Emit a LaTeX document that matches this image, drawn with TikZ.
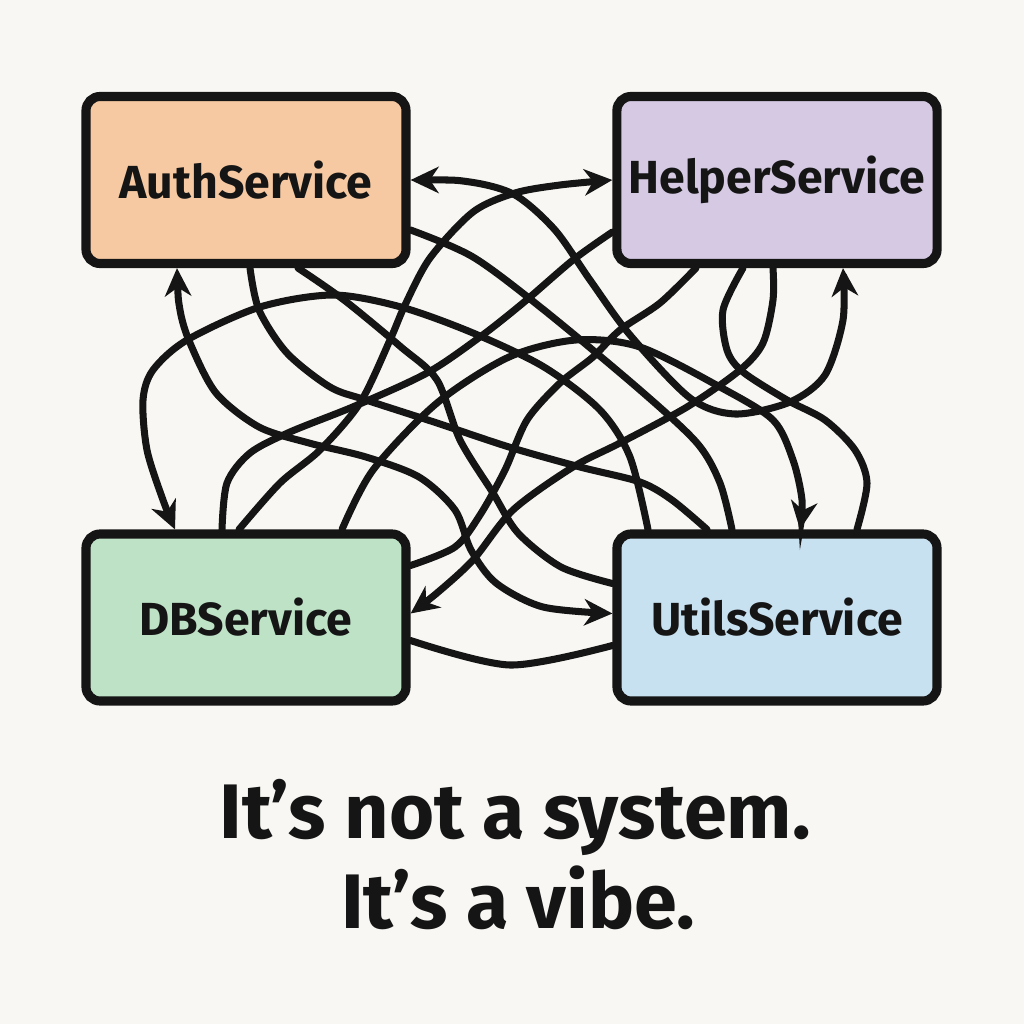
\documentclass[tikz,border=0pt]{standalone}
\usepackage{fontspec}
\setmainfont{Fira Sans}
\usetikzlibrary{arrows.meta}

\definecolor{bgcol}{HTML}{F8F7F3}
\definecolor{authcol}{HTML}{F6C9A2}
\definecolor{helpercol}{HTML}{D5C9E3}
\definecolor{dbcol}{HTML}{BEE2C6}
\definecolor{utilscol}{HTML}{C8E1F1}
\definecolor{inkcol}{HTML}{151515}

\begin{document}
\begin{tikzpicture}[x=0.1mm,y=-0.1mm,node distance=53.1mm,>={Stealth[length=8pt,width=7.5pt,inset=2.5pt]}]
   \tikzstyle{service}=[draw=inkcol,line width=2.6pt,rounded corners=4pt,minimum width=32mm,minimum height=16.7mm,text=inkcol,font=\bfseries\fontsize{13.2}{16}\selectfont]
   \tikzstyle{wire}=[draw=inkcol,line width=2pt,line cap=round]
   \tikzstyle{motto}=[text=inkcol,anchor=base,font=\bfseries\fontsize{22}{26}\selectfont]

   \fill[bgcol] (0,0) rectangle (1024,1024);

   \node[service,fill=authcol]   (auth)                                       at (246,180) {AuthService};
   \node[service,fill=helpercol] (helper) [right of=auth]                                  {HelperService};
   \node[service,fill=dbcol]     (db)     [below of=auth,node distance=43.75mm]            {DBService};
   \node[service,fill=utilscol]  (utils)  [right of=db]                                    {UtilsService};

   \node[motto] (line1) at (515,838) {It’s not a system.};
   \node[motto] (line2) at (518,928) {It’s a vibe.};

   % where the wires leave the boxes
   \coordinate (a1) at (auth.east);
   \coordinate (a2) at ([yshift=-5mm]auth.east);
   \coordinate (a3) at ([xshift=-6.9mm]auth.south);
   \coordinate (a4) at ([xshift=0.4mm]auth.south);
   \coordinate (a5) at ([xshift=5.2mm]auth.south);
   \coordinate (h1) at (helper.west);
   \coordinate (h2) at ([yshift=-5.2mm]helper.west);
   \coordinate (h3) at ([xshift=-8.1mm]helper.south);
   \coordinate (h4) at ([xshift=-3.4mm]helper.south);
   \coordinate (h5) at ([xshift=-0.4mm]helper.south);
   \coordinate (h6) at ([xshift=6.6mm]helper.south);
   \coordinate (d1) at ([xshift=-7.1mm]db.north);
   \coordinate (d2) at ([xshift=-2.4mm]db.north);
   \coordinate (d3) at ([xshift=-0.7mm]db.north);
   \coordinate (d4) at ([xshift=9.6mm]db.north);
   \coordinate (d5) at ([yshift=5.2mm]db.east);
   \coordinate (d6) at ([yshift=0.4mm]db.east);
   \coordinate (d7) at ([yshift=-2.3mm]db.east);
   \coordinate (u1) at ([yshift=3.4mm]utils.west);
   \coordinate (u2) at ([yshift=0.4mm]utils.west);
   \coordinate (u3) at ([yshift=-2.8mm]utils.west);
   \coordinate (u4) at ([xshift=-12.9mm]utils.north);
   \coordinate (u5) at ([xshift=-7mm]utils.north);
   \coordinate (u6) at ([xshift=-4.5mm]utils.north);
   \coordinate (u7) at ([xshift=2.3mm]utils.north);
   \coordinate (u8) at ([xshift=8mm]utils.north);

   \draw[wire,<->] plot[smooth] coordinates {(a1) (470,182) (515,195) (555,230) (590,280) (630,335) (690,398) (735,414) (790,402) (825,375) (843,320) (h6)};
   \draw[wire]     plot[smooth] coordinates {(d2) (227,483) (250,453) (290,432) (355,406) (427,373) (480,337) (523,303) (573,260) (h2)};
   \draw[wire,->]  plot[smooth] coordinates {(d3) (280,483) (320,450) (360,403) (390,340) (405,305) (430,258) (473,212) (515,193) (560,185) (h1)};
   \draw[wire,->]  plot[smooth] coordinates {(d4) (373,470) (437,403) (509,357) (576,340) (640,347) (720,387) (773,420) (793,460) (802,500) (u7)};
   \draw[wire]     plot[smooth] coordinates {(h4) (723,310) (727,350) (743,372) (787,400) (825,420) (855,450) (867,483) (u8)};
   \draw[wire,->]  plot[smooth] coordinates {(h5) (773,300) (763,343) (740,370) (687,407) (620,443) (573,467) (513,510) (473,560) (437,593) (d6)};
   \draw[wire]     plot[smooth] coordinates {(d7) (510,665) (u3)};
   \draw[wire,<->] plot[smooth] coordinates {(a3) (180,310) (190,343) (216,393) (259,427) (309,443) (366,457) (419,477) (455,510) (471,550) (496,583) (543,607) (u2)};
   \draw[wire]     plot[smooth] coordinates {(a4) (259,310) (287,353) (330,387) (366,400) (437,423) (509,447) (580,467) (640,482) (672,500) (u5)};
   \draw[wire]     plot[smooth] coordinates {(a5) (344,300) (401,347) (437,380) (460,440) (493,493) (518,533) (561,567) (u1)};
   \draw[wire]     plot[smooth] coordinates {(a2) (473,257) (544,310) (640,390) (697,443) (720,483) (u6)};
   \draw[wire,->]  plot[smooth] coordinates {(u4) (630,457) (600,410) (544,367) (473,333) (401,307) (333,295) (260,307) (187,340) (153,370) (143,400) (147,450) (163,500) (d1)};
   \draw[wire]     plot[smooth] coordinates {(h3) (660,303) (620,330) (593,357) (560,383) (527,420) (505,470) (480,515) (455,547) (d5)};
\end{tikzpicture}
\end{document}
